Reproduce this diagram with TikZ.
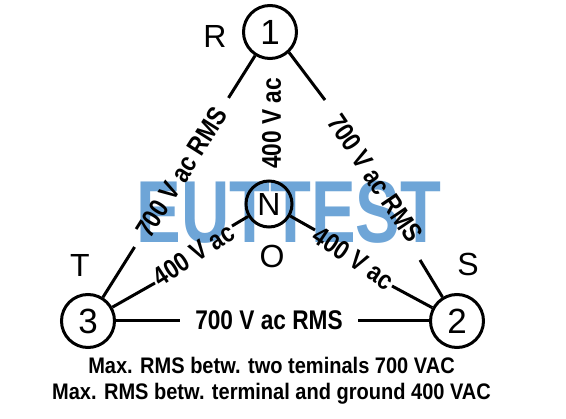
\documentclass[tikz,border=0pt]{standalone}
\usepackage{fontspec}
\setmainfont{Liberation Sans}
\newfontfamily\condfont[FakeStretch=0.84]{Liberation Sans}
\newfontfamily\notefont[FakeStretch=0.89]{Liberation Sans}
\newfontfamily\wmfont[FakeStretch=0.76]{Liberation Sans}
\usetikzlibrary{calc}
\definecolor{wmblue}{RGB}{110,165,215}
\begin{document}
\begin{tikzpicture}[x=1pt,y=-1pt,
  term/.style={circle,draw,line width=3pt,minimum size=53pt,inner sep=0pt,
    font=\fontsize{35}{35}\selectfont},
  neutral/.style={term,minimum size=46pt,font=\fontsize{32}{32}\selectfont},
  wire/.style={line width=3pt},
  elabel/.style={inner sep=0pt,font=\condfont\bfseries\fontsize{27}{27}\selectfont},
  tlabel/.style={inner sep=0pt,font=\fontsize{32}{32}\selectfont},
  note/.style={inner sep=0pt,anchor=base,font=\notefont\bfseries\fontsize{22.5}{22.5}\selectfont},
  wm/.style={inner sep=0pt,text=wmblue,font=\wmfont\bfseries\fontsize{88}{88}\selectfont}]
\useasboundingbox (0,0) rectangle (566,419);
\fill[white] (0,0) rectangle (566,419);

% watermark
\node[wm] (wmark) at (289,212) {EUTTEST};

% terminals
\node[term] (n1) at (270,32) {1};
\node[term] (n2) at (457,321) {2};
\node[term] (n3) at (88,321) {3};
\node[neutral] (nN) at (269,204) {N};

% terminal letters
\node[tlabel] (lR) at (215,36) {R};
\node[tlabel] (lT) at (80,265) {T};
\node[tlabel] (lS) at (468,264) {S};
\node[tlabel] (lO) at (272,256) {O};

% free ends of the broken connectors
\coordinate (a1) at ($(n3.center)!0.256!(n1.center)$);
\coordinate (a2) at ($(n3.center)!0.772!(n1.center)$);
\coordinate (b1) at (325,100);
\coordinate (b2) at (420,260);
\coordinate (c1) at (155,283);
\coordinate (c2) at (232,226);
\coordinate (d1) at (315,230);
\coordinate (d2) at (392,286);
\coordinate (e1) at (180,321);
\coordinate (e2) at (358,321);

% connectors
\draw[wire] (n3) -- (a1);
\draw[wire] (a2) -- (n1);
\draw[wire] (n1.-47) -- (b1);
\draw[wire] (b2) -- (n2);
\draw[wire] (n3) -- (c1);
\draw[wire] (c2) -- (nN);
\draw[wire] (nN) -- (d1);
\draw[wire] (d2) -- (n2);
\draw[wire] (n3) -- (e1);
\draw[wire] (e2) -- (n2);

% connector labels
\node[elabel,rotate=57.8] (l31) at ($(n3.center)!0.514!(n1.center)$) {700 V ac RMS};
\node[elabel,rotate=-56] (l12) at (375,178) {700 V ac RMS};
\node[elabel,rotate=90] (l1N) at (271.5,123.5) {400 V ac};
\node[elabel,rotate=33] (l3N) at (193.5,254.5) {400 V ac};
\node[elabel,rotate=-34] (lN2) at (353.5,258) {400 V ac};
\node[elabel] (l32) at (269,320) {700 V ac RMS};

% notes
\node[note] (note1) at (271.5,374) {Max. RMS betw. two teminals 700 VAC};
\node[note] (note2) at (271.5,400) {Max. RMS betw. terminal and ground 400 VAC};
\end{tikzpicture}
\end{document}
